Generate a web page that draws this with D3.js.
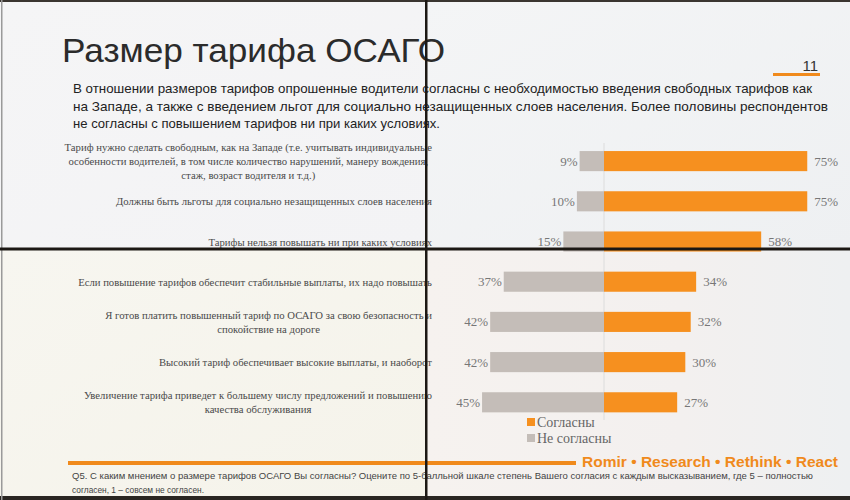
<!DOCTYPE html>
<html><head><meta charset="utf-8">
<script src="https://cdn.jsdelivr.net/npm/d3@7/dist/d3.min.js"></script>
<style>html,body{margin:0;padding:0;background:#f3f3f3;}svg{display:block;}</style>
</head><body>
<svg id="c" width="850" height="500"></svg>
<script>
const categories = [
  ["Тариф нужно сделать свободным, как на Западе (т.е. учитывать индивидуальные", "особенности водителей, в том числе количество нарушений, манеру вождения,", "стаж, возраст водителя и т.д.)"],
  ["Должны быть льготы для социально незащищенных слоев населения"],
  ["Тарифы нельзя повышать ни при каких условиях"],
  ["Если повышение тарифов обеспечит стабильные выплаты, их надо повышать"],
  ["Я готов платить повышенный тариф по ОСАГО за свою безопасность и", "спокойствие на дороге"],
  ["Высокий тариф обеспечивает высокие выплаты, и наоборот"],
  ["Увеличение тарифа приведет к большему числу предложений и повышению", "качества обслуживания"]
];
const agree = [75, 75, 58, 34, 32, 30, 27];
const disagree = [9, 10, 15, 37, 42, 42, 45];
const seriesNames = ["Согласны", "Не согласны"];
const title = "Размер тарифа ОСАГО";
const pageNum = "11";
const intro = [
  "В отношении размеров тарифов опрошенные водители согласны с необходимостью введения свободных тарифов как",
  "на Западе, а также с введением льгот для социально незащищенных слоев населения. Более половины респондентов",
  "не согласны с повышением тарифов ни при каких условиях."
];
const footnote = [
  "Q5. С каким мнением о размере тарифов ОСАГО Вы согласны? Оцените по 5-балльной шкале степень Вашего согласия с каждым высказыванием, где 5 – полностью",
  "согласен, 1 – совсем не согласен."
];
const brand = "Romir • Research • Rethink • React";

const svg = d3.select("#c");
const defs = svg.append("defs");
function grad(id, stops, x2, y2) {
  const g = defs.append("linearGradient").attr("id", id).attr("x1", 0).attr("y1", 0).attr("x2", x2).attr("y2", y2);
  stops.forEach(s => g.append("stop").attr("offset", s[0]).attr("stop-color", s[1]));
}
grad("gTL", [[0, "#f5f5f6"], [1, "#f3f3f5"]], 1, 1);
grad("gTR", [[0, "#f4f5f6"], [1, "#eef0f2"]], 1, 1);
grad("gBL", [[0, "#f7f6f0"], [1, "#f5f3ea"]], 1, 1);
grad("gBR", [[0, "#f6f2ef"], [0.6, "#f3f0ef"], [1, "#eef0f1"]], 1, 0);

svg.append("rect").attr("x", 0).attr("y", 0).attr("width", 427).attr("height", 249).attr("fill", "url(#gTL)");
svg.append("rect").attr("x", 427).attr("y", 0).attr("width", 423).attr("height", 249).attr("fill", "url(#gTR)");
svg.append("rect").attr("x", 0).attr("y", 249).attr("width", 427).attr("height", 251).attr("fill", "url(#gBL)");
svg.append("rect").attr("x", 427).attr("y", 249).attr("width", 423).attr("height", 251).attr("fill", "url(#gBR)");

const sans = "Liberation Sans, Arial, sans-serif";
svg.append("text").attr("x", 62).attr("y", 62).attr("font-family", sans)
  .attr("font-size", 34).attr("fill", "#2b2b2b").attr("textLength", 383).attr("lengthAdjust", "spacingAndGlyphs").text(title);
svg.append("text").attr("x", 818).attr("y", 71).attr("text-anchor", "end").attr("font-family", sans)
  .attr("font-size", 15).attr("fill", "#333").text(pageNum);
svg.append("line").attr("x1", 773).attr("x2", 820).attr("y1", 74.5).attr("y2", 74.5).attr("stroke", "#f08a1c").attr("stroke-width", 3);

const introLens = [739, 755, 367];
intro.forEach((t, i) => {
  svg.append("text").attr("x", 73).attr("y", 93 + i * 17.5).attr("font-family", sans)
    .attr("font-size", 13.5).attr("fill", "#222").attr("textLength", introLens[i]).attr("lengthAdjust", "spacingAndGlyphs").text(t);
});

const x = d3.scaleLinear().domain([-50, 80]).range([604 - 50 * 2.71, 604 + 80 * 2.71]);
const y = d3.scaleBand().domain(d3.range(categories.length)).range([141, 422.4]).paddingInner(0.5).paddingOuter(0.25);

svg.append("line").attr("x1", x(0)).attr("x2", x(0)).attr("y1", 143).attr("y2", 420).attr("stroke", "#dcdcdc").attr("stroke-width", 1);

const orange = "#f6901f", gray = "#c4bdb8";
const g = svg.append("g");
g.selectAll(".dis").data(disagree).join("rect").attr("class", "dis")
  .attr("x", d => x(-d)).attr("width", d => x(0) - x(-d)).attr("y", (d, i) => y(i)).attr("height", y.bandwidth()).attr("fill", gray);
g.selectAll(".agr").data(agree).join("rect").attr("class", "agr")
  .attr("x", x(0)).attr("width", d => x(d) - x(0)).attr("y", (d, i) => y(i)).attr("height", y.bandwidth()).attr("fill", orange);

const serif = "Liberation Serif, Times New Roman, serif";
g.selectAll(".disL").data(disagree).join("text").attr("class", "disL")
  .attr("x", d => x(-d) - 2).attr("y", (d, i) => y(i) + y.bandwidth() / 2 + 4.5).attr("text-anchor", "end")
  .attr("font-family", serif).attr("font-size", 13).attr("fill", "#777").text(d => d + "%");
g.selectAll(".agrL").data(agree).join("text").attr("class", "agrL")
  .attr("x", d => x(d) + 7).attr("y", (d, i) => y(i) + y.bandwidth() / 2 + 4.5)
  .attr("font-family", serif).attr("font-size", 13).attr("fill", "#777").text(d => d + "%");

categories.forEach((lines, i) => {
  const cy = y(i) + y.bandwidth() / 2;
  const lh = 14;
  const grp = svg.append("g");
  const texts = lines.map((t, j) => grp.append("text")
    .attr("y", cy + (j - (lines.length - 1) / 2) * lh + 4)
    .attr("font-family", serif).attr("font-size", 10.7).attr("fill", "#4a4a4a").text(t));
  const maxW = d3.max(texts, t => t.node().getComputedTextLength());
  const cx = 432 - maxW / 2;
  texts.forEach(t => t.attr("x", cx).attr("text-anchor", "middle"));
});

const leg = svg.append("g");
[orange, gray].forEach((c, i) => {
  leg.append("rect").attr("x", 527).attr("y", 418 + i * 16).attr("width", 8).attr("height", 8).attr("fill", c);
  leg.append("text").attr("x", 537).attr("y", 427 + i * 16).attr("font-family", serif).attr("font-size", 14).attr("fill", "#666").text(seriesNames[i]);
});

svg.append("line").attr("x1", 68).attr("x2", 576).attr("y1", 463).attr("y2", 463).attr("stroke", "#f08a1c").attr("stroke-width", 4);
svg.append("text").attr("x", 582).attr("y", 467).attr("font-family", sans).attr("font-weight", "bold")
  .attr("font-size", 15).attr("fill", "#f08a1c").attr("textLength", 256).attr("lengthAdjust", "spacingAndGlyphs").text(brand);
footnote.forEach((t, i) => {
  svg.append("text").attr("x", 72).attr("y", 479 + i * 14).attr("font-family", sans)
    .attr("font-size", 9.5).attr("fill", "#444").attr("textLength", i === 0 ? 741 : 132).attr("lengthAdjust", "spacingAndGlyphs").text(t);
});

svg.append("rect").attr("x", 0).attr("y", 0).attr("width", 850).attr("height", 2).attr("fill", "#3a3530");
svg.append("rect").attr("x", 0).attr("y", 496).attr("width", 850).attr("height", 4).attr("fill", "#2a2622");
svg.append("rect").attr("x", 1).attr("y", 0).attr("width", 1.5).attr("height", 500).attr("fill", "#9a9a9a");
svg.append("rect").attr("x", 425).attr("y", 0).attr("width", 2.5).attr("height", 500).attr("fill", "#1c1814");
svg.append("rect").attr("x", 0).attr("y", 247.5).attr("width", 850).attr("height", 3).attr("fill", "#1c1814");
</script>
</body></html>
